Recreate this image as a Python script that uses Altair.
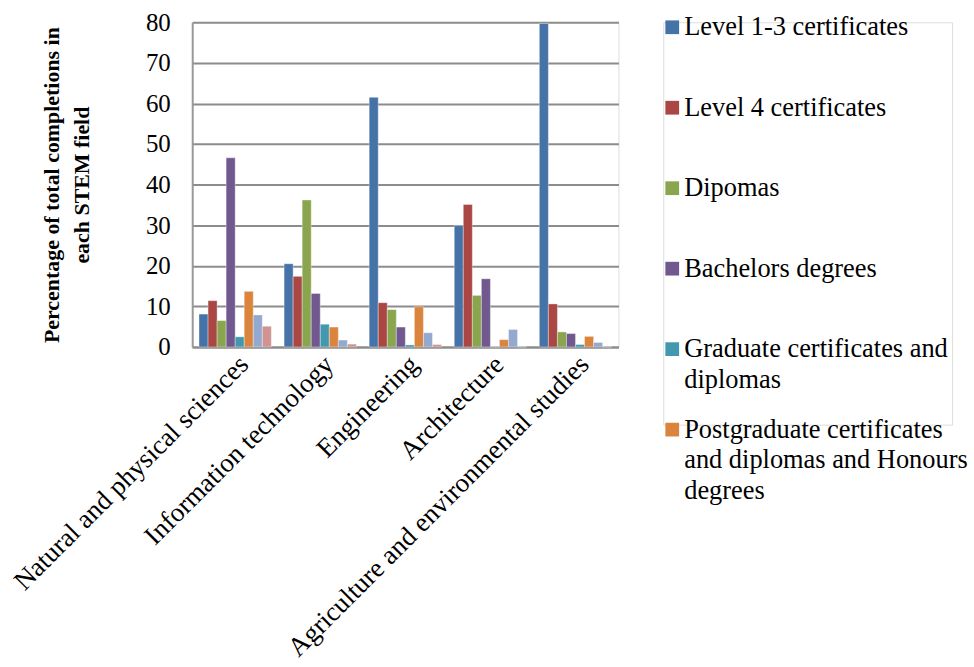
import altair as alt
import pandas as pd

categories = ["Natural and physical sciences", "Information technology", "Engineering",
              "Architecture", "Agriculture and environmental studies"]
series = ["Level 1-3 certificates", "Level 4 certificates", "Dipomas", "Bachelors degrees",
          "Graduate certificates and diplomas",
          "Postgraduate certificates and diplomas and Honours degrees",
          "Masters degrees", "Doctoral degrees"]
legend_labels = ["Level 1-3 certificates", "Level 4 certificates", "Dipomas", "Bachelors degrees",
                 "Graduate certificates and|diplomas",
                 "Postgraduate certificates|and diplomas and Honours|degrees"]
colors = ["#4572A7", "#AA4643", "#89A54E", "#71588F", "#4198AF", "#DB843D", "#93A9CF", "#D19392"]

level13 = [8.1, 20.5, 61.5, 29.9, 79.7]
level4 = [11.4, 17.4, 10.9, 35.1, 10.6]
diplomas = [6.5, 36.2, 9.2, 12.7, 3.7]
bachelors = [46.6, 13.2, 4.9, 16.8, 3.3]
gradcert = [2.5, 5.6, 0.5, 0.0, 0.6]
postgrad = [13.7, 4.9, 9.9, 1.8, 2.6]
masters = [7.9, 1.7, 3.5, 4.3, 1.1]
doctoral = [5.1, 0.7, 0.6, 0.0, 0.0]

values = [level13, level4, diplomas, bachelors, gradcert, postgrad, masters, doctoral]
rows = []
for s, vals in zip(series, values):
    for c, v in zip(categories, vals):
        rows.append({"category": c, "series": s, "value": v})
df = pd.DataFrame(rows)

FONT = "Liberation Serif"

bars = alt.Chart(df).mark_bar(stroke="white", strokeWidth=0.6, strokeOpacity=0.6).encode(
    x=alt.X("category:N", sort=categories, title=None,
            scale=alt.Scale(paddingInner=0.15, paddingOuter=0.08),
            axis=alt.Axis(labelAngle=-45, labelAlign="right", labelBaseline="top",
                          labelFontSize=27, labelFont=FONT, labelColor="black",
                          labelPadding=4, ticks=False, domainColor="#8c8c8c",
                          domainWidth=2, labelLimit=500, labelOverlap=False)),
    xOffset=alt.XOffset("series:N", sort=series),
    y=alt.Y("value:Q", scale=alt.Scale(domain=[0, 80]),
            title=["Percentage of total completions in", "each STEM field"],
            axis=alt.Axis(values=list(range(0, 81, 10)), labelFontSize=25, labelFont=FONT,
                          labelColor="black", titleFont=FONT, titleFontSize=22,
                          titleFontWeight="bold", titleColor="black", titlePadding=52,
                          titleLineHeight=30,
                          gridColor="#8c8c8c", gridWidth=2, domainColor="#999999",
                          domainWidth=2, ticks=False, labelPadding=22)),
    color=alt.Color("series:N", sort=series,
                    scale=alt.Scale(domain=series, range=colors), legend=None),
).properties(width=428, height=326)

leg_df = pd.DataFrame({"series": series[:6], "label": legend_labels})
leg_base = alt.Chart(leg_df).encode(
    y=alt.Y("series:N", sort=series[:6], axis=None,
            scale=alt.Scale(type="point", padding=0)),
    yOffset=alt.value(5),
)
leg_sym = leg_base.mark_square(size=190, opacity=1).encode(
    x=alt.value(9),
    color=alt.Color("series:N", scale=alt.Scale(domain=series, range=colors), legend=None),
)
leg_txt = leg_base.mark_text(align="left", baseline="middle", font=FONT, fontSize=26.5,
                             lineBreak="|", lineHeight=31, color="black").encode(
    x=alt.value(21),
    text="label:N",
)
legend = alt.layer(leg_sym, leg_txt).properties(width=290, height=404)

chart = alt.hconcat(bars, legend, spacing=43).configure_view(stroke=None).configure(
    font=FONT
).properties(
    padding={"left": 8, "top": 8, "right": 5, "bottom": 5}
)

chart.save("out.html", embed_options={"renderer": "svg", "actions": False})
